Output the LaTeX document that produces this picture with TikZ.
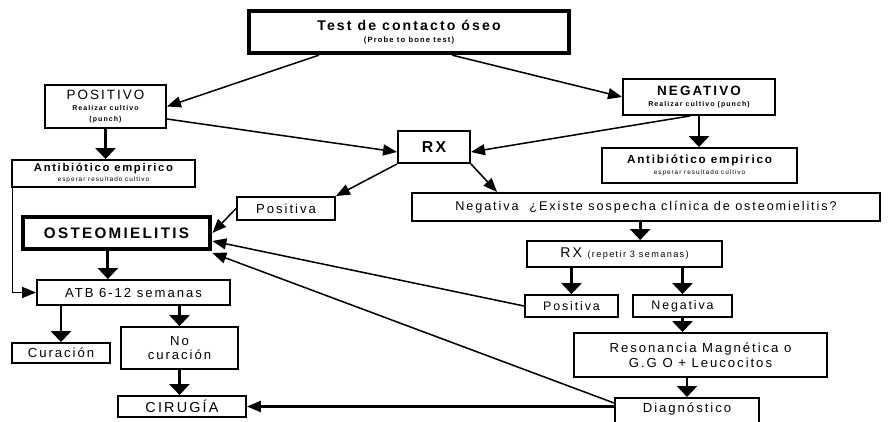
\documentclass[tikz,border=0pt]{standalone}
\usepackage{fontspec}
\setmainfont{Liberation Sans}[LetterSpace=15]
\usetikzlibrary{arrows.meta}
\newcommand{\fsz}[2]{\fontsize{#1}{#2}\selectfont}

\begin{document}
\begin{tikzpicture}[
  x=0.03cm, y=-0.03cm,
  block/.style={rectangle, draw, line width=1.6pt, inner sep=1pt, align=center, font=\fsz{11.2}{12.5}},
  heavy/.style={block, line width=3.6pt},
  >={Triangle[length=0.42cm,width=0.33cm]},
  link/.style={->, line width=1.3pt},
  drop/.style={-{Triangle[length=0.33cm,width=0.6cm]}, line width=2.4pt}
]
\useasboundingbox (0,0) rectangle (888,422);
\clip (0,0) rectangle (888,422);

\node[heavy, minimum width=9.6cm, minimum height=1.26cm] (test) at (409,32) {{\fsz{12}{13}\bfseries Test de contacto óseo}\\[-2pt]{\fsz{6.5}{7.5}\bfseries (Probe to bone test)}};
\node[block, minimum width=3.63cm, minimum height=1.29cm] (pos) at (105.5,106.5) {{\fsz{11.5}{12}POSITIVO}\\[-3pt]{\fsz{6}{7}\bfseries Realizar cultivo}\\[-3pt]{\fsz{6}{7}\bfseries (punch)}};
\node[block, minimum width=4.56cm, minimum height=1.08cm] (neg) at (699,97) {{\fsz{11.5}{12}\bfseries NEGATIVO}\\[-3pt]{\fsz{6}{7}\bfseries Realizar cultivo (punch)}};
\node[block, minimum width=5.49cm, minimum height=0.81cm] (antL) at (103.5,173.5) {{\fsz{9.6}{10}\bfseries Antibiótico empirico}\\[-4pt]{\fsz{5.5}{6.5}esperar resultado cultivo}};
\node[block, minimum width=5.85cm, minimum height=1.05cm] (antR) at (699.5,165.5) {{\fsz{10}{11}\bfseries Antibiótico empirico}\\[-3pt]{\fsz{5.5}{6.5}esperar resultado cultivo}};
\node[block, minimum width=2.16cm, minimum height=0.96cm, font=\fsz{13.5}{15}\bfseries] (rx) at (434,147) {RX};
\node[block, minimum width=2.94cm, minimum height=0.69cm] (posA) at (286,208.5) {Positiva};
\node[block, minimum width=14.04cm, minimum height=0.84cm, font=\fsz{10.8}{12}] (negQ) at (646,207) {Negativa\ \ ¿Existe sospecha clínica de osteomielitis?};
\node[block, line width=4pt, minimum width=5.61cm, minimum height=0.96cm, font=\fsz{13}{14}\bfseries] (osteo) at (116.5,233) {OSTEOMIELITIS};
\node[block, minimum width=5.85cm, minimum height=0.78cm] (rxrep) at (624.5,254) {{\fsz{12}{13}RX} {\fsz{7.8}{9}(repetir 3 semanas)}};
\node[block, minimum width=5.79cm, minimum height=0.75cm] (atb) at (133.5,292.5) {ATB 6-12 semanas};
\node[block, minimum width=2.79cm, minimum height=0.66cm, font=\fsz{10.6}{12}] (posB) at (571.5,306) {Positiva};
\node[block, minimum width=2.97cm, minimum height=0.66cm, font=\fsz{10.6}{12}] (negB) at (682.5,306) {Negativa};
\node[block, minimum width=2.94cm, minimum height=0.6cm] (curacion) at (61,353) {Curación};
\node[block, minimum width=3.51cm, minimum height=1.26cm] (nocur) at (179.5,348) {No\\curación};
\node[block, minimum width=7.59cm, minimum height=1.32cm] (reson) at (700.5,355) {Resonancia Magnética o\\G.G O + Leucocitos};
\node[block, minimum width=3.84cm, minimum height=0.63cm, font=\fsz{12.3}{13}] (cirugia) at (182,406.5) {CIRUGÍA};
\node[block, anchor=north, minimum width=4.32cm, minimum height=1.2cm, inner sep=0pt, text height=0.3cm, text depth=0.6cm] (diag) at (687,397) {Diagnóstico};

\coordinate (k1) at ([xshift=0.47cm]rxrep.north);
\coordinate (k2) at ([xshift=-0.26cm]osteo.south);

\draw[link] ([xshift=-2.7cm]test.south) -- (pos.east);
\draw[link] ([xshift=1.29cm]test.south) -- (neg.west);
\draw[link] ([yshift=-0.375cm]pos.east) -- ([yshift=-0.15cm]rx.west);
\draw[link] ([xshift=-0.27cm]neg.south) -- ([yshift=-0.15cm]rx.east);
\draw[drop] (pos.south) -- (pos.south |- antL.north);
\draw[drop] (neg.south) -- (neg.south |- antR.north);
\draw[link] (rx.south west) -- (posA.north east);
\draw[link] (rx.south east) -- ([xshift=2.58cm]negQ.north west);
\draw[link] (posA.west) -- (osteo.east);
\draw[drop] (k1 |- negQ.south) -- (k1);
\draw[drop] (rxrep.south -| posB.north) -- (posB.north);
\draw[drop] (rxrep.south -| negB.north) -- (negB.north);
\draw[drop] (negB.south) -- (negB.south |- reson.north);
\draw[drop] (reson.south -| diag.north) -- (diag.north);
\draw[link, line width=2pt] (diag.west |- cirugia.east) -- (cirugia.east);
\draw[link] ([yshift=-0.18cm]diag.north west) -- ([yshift=-0.6cm]osteo.east);
\draw[link] (posB.west) -- ([yshift=-0.24cm]osteo.east);
\draw[link] ([xshift=0.05cm]antL.south west) |- (atb.west);
\draw[drop] (k2) -- (k2 |- atb.north);
\draw[drop] (atb.south -| curacion.north) -- (curacion.north);
\draw[drop] (atb.south -| nocur.north) -- (nocur.north);
\draw[drop] (nocur.south) -- (nocur.south |- cirugia.north);
\end{tikzpicture}
\end{document}
